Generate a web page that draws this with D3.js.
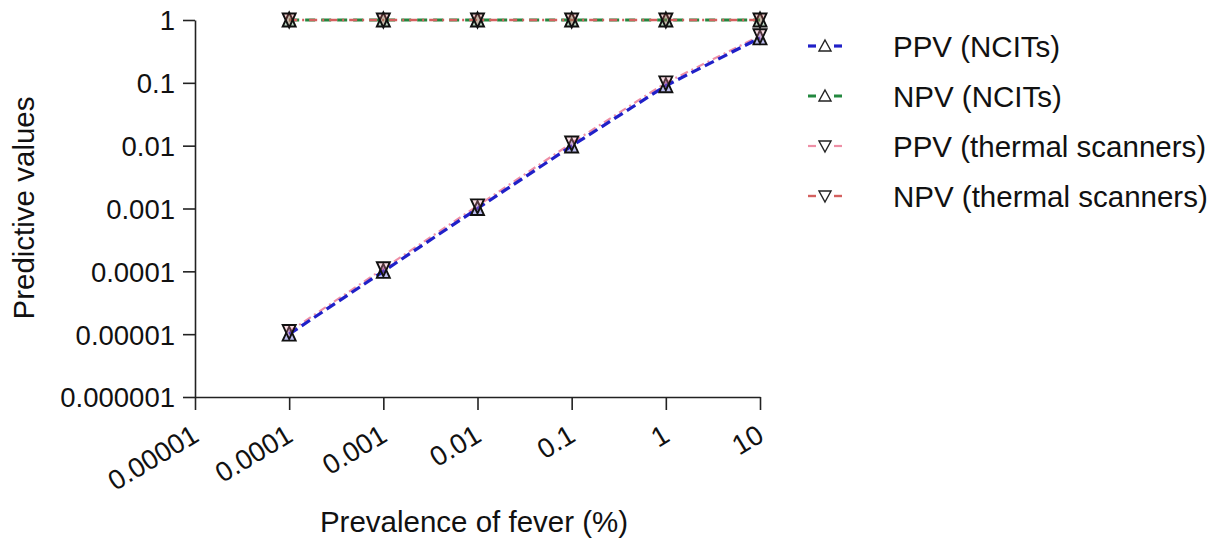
<!DOCTYPE html>
<html>
<head>
<meta charset="utf-8">
<script src="https://cdn.jsdelivr.net/npm/d3@7"></script>
<style>
  body { margin: 0; background: #fff; }
  svg { font-family: "Liberation Sans", Arial, sans-serif; }
</style>
</head>
<body>
<div id="chart"></div>
<script>
// prevalence of fever (%) and predictive values
var prevalence = [0.0001, 0.001, 0.01, 0.1, 1, 10];
var ppvNcit = [0.00001, 0.0001, 0.001, 0.0099, 0.09, 0.52];
var npvNcit = [1, 1, 1, 1, 1, 1];
var ppvThermal = [0.000011, 0.00011, 0.0011, 0.011, 0.1, 0.56];
var npvThermal = [1, 1, 1, 1, 1, 1];
var xTicks = [0.00001, 0.0001, 0.001, 0.01, 0.1, 1, 10];
var yTicks = [0.000001, 0.00001, 0.0001, 0.001, 0.01, 0.1, 1];
var seriesNames = ["PPV (NCITs)", "NPV (NCITs)", "PPV (thermal scanners)", "NPV (thermal scanners)"];

var width = 1229, height = 544;

var series = [
  { name: seriesNames[0], values: ppvNcit, color: "#2020c8", dash: "10,5", sw: 3.2, up: true },
  { name: seriesNames[1], values: npvNcit, color: "#23883f", dash: "10,6", sw: 3, up: true },
  { name: seriesNames[2], values: ppvThermal, color: "#ee8fa6", dash: "8,4,2,4", sw: 2.2, up: false },
  { name: seriesNames[3], values: npvThermal, color: "#d4605f", dash: "8,5,2,5", sw: 2.4, up: false }
];

var svg = d3.select("#chart").append("svg")
  .attr("width", width)
  .attr("height", height);

var x = d3.scaleLog().domain([0.00001, 10]).range([195, 760]);
var y = d3.scaleLog().domain([0.000001, 1]).range([397, 20]);

function fmt(v) {
  // plain decimal text like the original
  return v >= 1 ? String(v) : v.toFixed(Math.round(-Math.log10(v)));
}

// y axis
var yAxis = svg.append("g")
  .attr("transform", "translate(195,0)")
  .call(d3.axisLeft(y).tickValues(yTicks).tickFormat(fmt).tickSize(12).tickSizeOuter(0));
yAxis.select(".domain").attr("stroke", "#222").attr("stroke-width", 1.6);
yAxis.selectAll(".tick line").attr("stroke", "#222").attr("stroke-width", 1.6);
yAxis.selectAll(".tick text")
  .attr("x", -20)
  .attr("dy", "0.36em")
  .style("font-size", "27.5px")
  .attr("fill", "#111");

// x axis
var xAxis = svg.append("g")
  .attr("transform", "translate(0,397)")
  .call(d3.axisBottom(x).tickValues(xTicks).tickFormat(fmt).tickSize(13).tickSizeOuter(0));
xAxis.select(".domain").attr("stroke", "#222").attr("stroke-width", 1.6);
xAxis.selectAll(".tick line").attr("stroke", "#222").attr("stroke-width", 1.6);
xAxis.selectAll(".tick text")
  .attr("y", 0)
  .attr("dy", 0)
  .attr("text-anchor", "end")
  .attr("transform", "translate(5,43) rotate(-31)")
  .style("font-size", "27.5px")
  .attr("fill", "#111");

// axis titles
svg.append("text")
  .attr("x", 474)
  .attr("y", 532)
  .attr("text-anchor", "middle")
  .style("font-size", "29.5px")
  .attr("fill", "#111")
  .text("Prevalence of fever (%)");

svg.append("text")
  .attr("transform", "translate(34,208) rotate(-90)")
  .attr("text-anchor", "middle")
  .style("font-size", "29.5px")
  .attr("fill", "#111")
  .text("Predictive values");

// lines
var line = d3.line()
  .x(function(d, i) { return x(prevalence[i]); })
  .y(function(d) { return y(d); });

var drawOrder = [1, 3, 2, 0];
drawOrder.forEach(function(k) {
  var s = series[k];
  svg.append("path")
    .datum(s.values)
    .attr("d", line)
    .attr("fill", "none")
    .attr("stroke", s.color)
    .attr("stroke-width", s.sw)
    .attr("stroke-dasharray", s.dash);
});

function triPath(up) {
  return up ? "M0,-7.5L6.5,6.5L-6.5,6.5Z" : "M0,7.5L6.5,-6.5L-6.5,-6.5Z";
}

// markers
series.forEach(function(s) {
  svg.append("g").selectAll("path")
    .data(s.values)
    .enter().append("path")
    .attr("transform", function(d, i) { return "translate(" + x(prevalence[i]) + "," + y(d) + ")"; })
    .attr("d", triPath(s.up))
    .attr("fill", s.color)
    .attr("fill-opacity", 0.3)
    .attr("stroke", "#111")
    .attr("stroke-width", 1.9);
});

// legend
var legend = svg.append("g");
series.forEach(function(s, i) {
  var ly = 46 + i * 50;
  var g = legend.append("g").attr("transform", "translate(0," + ly + ")");
  g.append("line").attr("x1", 808).attr("x2", 816).attr("y1", 0).attr("y2", 0)
    .attr("stroke", s.color).attr("stroke-width", s.sw);
  g.append("line").attr("x1", 834).attr("x2", 842).attr("y1", 0).attr("y2", 0)
    .attr("stroke", s.color).attr("stroke-width", s.sw);
  g.append("path")
    .attr("transform", "translate(825,0)")
    .attr("d", s.up ? "M0,-6L6,5L-6,5Z" : "M0,6L6,-5L-6,-5Z")
    .attr("fill", "#fff")
    .attr("stroke", "#222")
    .attr("stroke-width", 1.4);
  g.append("text")
    .attr("x", 893)
    .attr("y", 0)
    .attr("dy", "0.36em")
    .style("font-size", "29.5px")
    .attr("fill", "#111")
    .text(s.name);
});
</script>
</body>
</html>
